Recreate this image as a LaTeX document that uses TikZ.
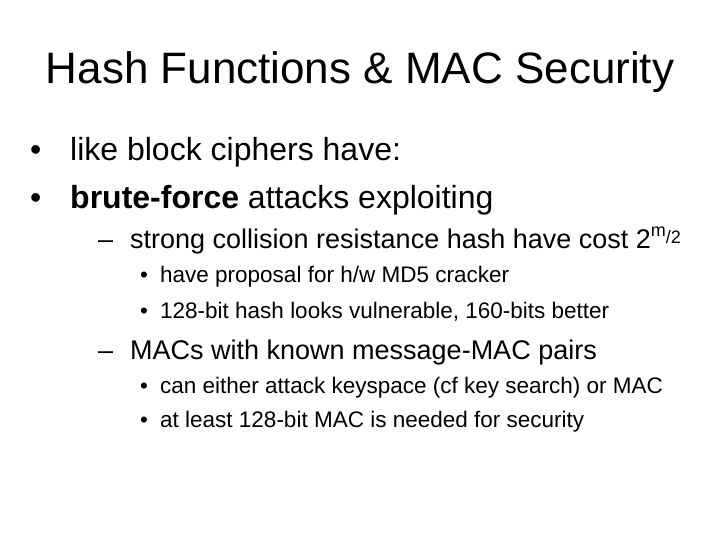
\documentclass[tikz,border=0pt]{standalone}
\usepackage{fontspec}
\setmainfont{Liberation Sans}
\usetikzlibrary{positioning}
\begin{document}
\begin{tikzpicture}[
    x=1pt, y=1pt,
    title/.style={anchor=base, font=\fontsize{44}{48}\selectfont},
    lvlone/.style={anchor=base west, inner sep=0pt, font=\fontsize{32}{36}\selectfont},
    lvltwo/.style={anchor=base west, inner sep=0pt, font=\fontsize{27}{31}\selectfont},
    lvlthree/.style={anchor=base west, inner sep=0pt, font=\fontsize{22.5}{26}\selectfont}
]
\useasboundingbox (0,0) rectangle (720,-540);

\node[title] (head) at (360,-84) {Hash Functions \& MAC Security};

% first level
\node[lvlone] (b1) at (30,-161) {\textbullet};
\node[lvlone] (t1) at (70,-161) {like block ciphers have:};
\node[lvlone] (b2) at (30,-208) {\textbullet};
\node[lvlone] (t2) at (70,-208) {\textbf{brute-force} attacks exploiting};

% second level
\node[lvltwo] (d1) at (98,-248) {–};
\node[lvltwo] (s1) at (130,-248) {strong collision resistance hash have cost 2\raisebox{12pt}{\fontsize{18}{18}\selectfont m}\raisebox{5pt}{\fontsize{18}{18}\selectfont /2}};

\node[lvlthree] (c1) at (140,-282) {\textbullet};
\node[lvlthree] (u1) at (160,-282) {have proposal for h/w MD5 cracker};
\node[lvlthree] (c2) at (140,-318) {\textbullet};
\node[lvlthree] (u2) at (160,-318) {128-bit hash looks vulnerable, 160-bits better};

\node[lvltwo] (d2) at (98,-359) {–};
\node[lvltwo] (s2) at (130,-359) {MACs with known message-MAC pairs};

\node[lvlthree] (c3) at (140,-393) {\textbullet};
\node[lvlthree] (u3) at (160,-393) {can either attack keyspace (cf key search) or MAC};
\node[lvlthree] (c4) at (140,-427) {\textbullet};
\node[lvlthree] (u4) at (160,-427) {at least 128-bit MAC is needed for security};
\end{tikzpicture}
\end{document}
